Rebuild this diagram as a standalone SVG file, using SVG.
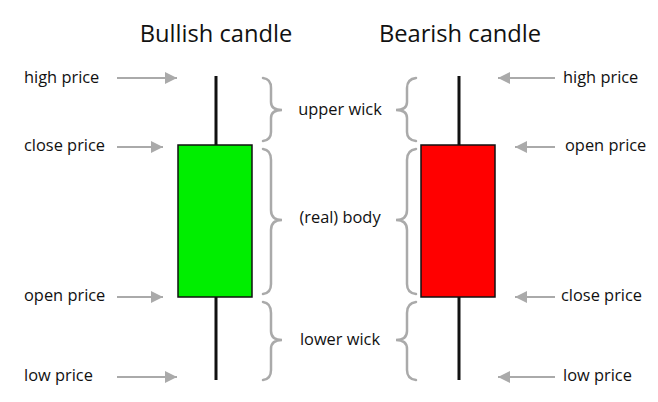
<svg xmlns="http://www.w3.org/2000/svg" width="658" height="402" viewBox="0 0 658 402">
<defs>
<marker id="ah" viewBox="0 0 10 10" refX="10" refY="5" markerWidth="12" markerHeight="12" markerUnits="userSpaceOnUse" orient="auto">
<path d="M0,0 L10,5 L0,10 Z" fill="#aaaaaa"/>
</marker>
<style>
.t{font-family:"Open Sans","Liberation Sans",sans-serif;fill:#111;}
.title{font-size:23.7px;text-anchor:middle;}
.lab{font-size:16.4px;}
.mid{font-size:16.4px;text-anchor:middle;}
.arr{stroke:#aaaaaa;stroke-width:2;fill:none;marker-end:url(#ah);}
.br{stroke:#aaaaaa;stroke-width:2.5;fill:none;stroke-linecap:round;}
.wick{stroke:#111;stroke-width:3;}
</style>
</defs>
<rect width="658" height="402" fill="#ffffff"/>
<g id="titles">
<text class="t title" x="216" y="42">Bullish candle</text>
<text class="t title" x="460" y="42">Bearish candle</text>
</g>
<g id="bullish-candle">
<line class="wick" x1="216" y1="76" x2="216" y2="380"/>
<rect x="178" y="145" width="74" height="152" fill="#00ee00" stroke="#111" stroke-width="1.5"/>
</g>
<g id="bearish-candle">
<line class="wick" x1="459" y1="76" x2="459" y2="380"/>
<rect x="421" y="145" width="74" height="152" fill="#ff0000" stroke="#111" stroke-width="1.5"/>
</g>
<g id="left-labels">
<text class="t lab" x="24" y="83">high price</text>
<text class="t lab" x="24" y="151">close price</text>
<text class="t lab" x="24" y="301">open price</text>
<text class="t lab" x="24" y="381">low price</text>
</g>
<g id="right-labels">
<text class="t lab" x="563" y="83">high price</text>
<text class="t lab" x="565" y="151">open price</text>
<text class="t lab" x="561" y="301">close price</text>
<text class="t lab" x="563" y="381">low price</text>
</g>
<g id="middle-labels">
<text class="t mid" x="340" y="115">upper wick</text>
<text class="t mid" x="340" y="223">(real) body</text>
<text class="t mid" x="340" y="345">lower wick</text>
</g>
<g id="connectors">
<line class="arr" x1="117" y1="78" x2="177" y2="78"/>
<line class="arr" x1="117" y1="147" x2="163" y2="147"/>
<line class="arr" x1="117" y1="297" x2="163" y2="297"/>
<line class="arr" x1="117" y1="377" x2="177" y2="377"/>
<line class="arr" x1="555" y1="78" x2="498" y2="78"/>
<line class="arr" x1="555" y1="147" x2="515" y2="147"/>
<line class="arr" x1="555" y1="297" x2="515" y2="297"/>
<line class="arr" x1="555" y1="377" x2="498" y2="377"/>
</g>
<g id="braces">
<path class="br" d="M263 78 Q271 79 271 88 L271 102 Q271 110 282 110 Q271 110 271 118 L271 132 Q271 140 263 141"/>
<path class="br" d="M263 149 Q271 150 271 160 L271 210 Q271 220 282 220 Q271 220 271 230 L271 284 Q271 293 263 294"/>
<path class="br" d="M263 302 Q271 303 271 313 L271 331 Q271 340 282 340 Q271 340 271 349 L271 370 Q271 379 263 380"/>
<path class="br" d="M416 78 Q407 79 407 88 L407 102 Q407 110 396 110 Q407 110 407 118 L407 132 Q407 140 416 141"/>
<path class="br" d="M416 149 Q407 150 407 160 L407 210 Q407 220 396 220 Q407 220 407 230 L407 284 Q407 293 416 294"/>
<path class="br" d="M416 302 Q407 303 407 313 L407 331 Q407 340 396 340 Q407 340 407 349 L407 370 Q407 379 416 380"/>
</g>
</svg>
